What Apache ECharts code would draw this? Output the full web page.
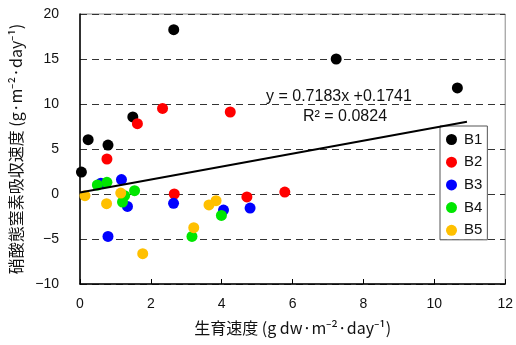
<!DOCTYPE html>
<html><head><meta charset="utf-8">
<script src="https://cdn.jsdelivr.net/npm/echarts@6/dist/echarts.min.js"></script>
<style>html,body{margin:0;padding:0;background:#fff}#c{width:516px;height:345px}</style>
</head><body><div id="c"></div>
<script>
var seriesNames = ['B1','B2','B3','B4','B5'];
var B1 = [[0.04,2.44],[0.23,6.03],[0.79,5.44],[1.49,8.56],[2.645,18.26],[7.23,15.0],[10.65,11.78]];
var B2 = [[0.76,3.89],[1.62,7.81],[2.33,9.51],[4.24,9.11],[2.66,0.0],[4.71,-0.33],[5.78,0.22]];
var B3 = [[0.59,1.2],[1.17,1.6],[1.34,-1.38],[2.64,-1.04],[0.79,-4.71],[4.05,-1.78],[4.80,-1.56]];
var B4 = [[0.49,1.0],[0.76,1.3],[1.54,0.37],[1.26,-0.19],[1.20,-0.89],[3.16,-4.71],[3.99,-2.38]];
var B5 = [[0.14,-0.19],[0.75,-1.08],[1.15,0.1],[1.77,-6.63],[3.21,-3.74],[3.64,-1.22],[3.84,-0.74]];
var slope = 0.7183, intercept = 0.1741;
var trendX = [0, 10.92];
var xTicks = [0,2,4,6,8,10,12];
var yTicks = [-10,-5,0,5,10,15,20];

var colors = ['#000000','#ff0000','#0000ff','#00e600','#ffc000'];
var allData = [B1,B2,B3,B4,B5];
var trendData = trendX.map(function(x){ return [x, slope*x + intercept]; });
var numFont = 'Liberation Sans, Arial, sans-serif';
var cjkFont = '"Noto Sans CJK JP", sans-serif';
function fmt(v){ return String(v).replace('-', '\u2212'); }

var series = allData.map(function(d,i){
  return { name: seriesNames[i], type:'scatter', data:d, symbol:'circle', symbolSize:11,
    itemStyle:{color:colors[i], opacity:1}, z:2 };
});
series.push({ name:'trend', type:'line', data:trendData, showSymbol:false, symbol:'none',
  lineStyle:{color:'#000', width:2}, z:5, silent:true });

var chart = echarts.init(document.getElementById('c'), null, {renderer:'canvas'});
chart.setOption({
  animation:false,
  backgroundColor:'#fff',
  grid:{left:80, top:14, right:8, bottom:61, show:true, borderColor:'#8a8a8a', borderWidth:1, backgroundColor:'transparent'},
  legend:{ data:seriesNames, orient:'vertical', left:440, top:126, icon:'circle',
    itemWidth:11, itemHeight:11, itemGap:7.7, padding:[6,5,2,6],
    borderColor:'#555', borderWidth:1, backgroundColor:'#fff',
    textStyle:{fontFamily:numFont, fontSize:15, color:'#111', padding:[0,0,0,2]} },
  xAxis:{ type:'value', min:0, max:12, interval:2,
    name:'生育速度 (g dw·m\u207B\u00B2·day\u207B\u00B9)', nameLocation:'middle', nameGap:36,
    nameTextStyle:{fontFamily:cjkFont, fontSize:16, color:'#111', verticalAlign:'top'},
    axisLine:{show:true, onZero:false, lineStyle:{color:'#000', width:1.5}},
    axisTick:{show:true, inside:true, length:5, lineStyle:{color:'#000'}},
    axisLabel:{margin:13, fontFamily:numFont, fontSize:14, color:'#111', formatter:fmt},
    splitLine:{show:false} },
  yAxis:{ type:'value', min:-10, max:20, interval:5,
    name:'硝酸態窒素吸収速度 (g·m\u207B\u00B2·day\u207B\u00B9)', nameLocation:'middle', nameGap:52, nameRotate:90,
    nameTextStyle:{fontFamily:cjkFont, fontSize:16, color:'#111'},
    axisLine:{show:true, onZero:false, lineStyle:{color:'#000', width:1.5}},
    axisTick:{show:false},
    axisLabel:{margin:21, fontFamily:numFont, fontSize:14, color:'#111', formatter:fmt},
    splitLine:{show:true, lineStyle:{color:'#333', type:[7,5], width:1}} },
  graphic:[
    {type:'text', left:266, top:89, z:10, style:{text:'y = 0.7183x +0.1741', font:'16px Liberation Sans, Arial, sans-serif', fill:'#111'}},
    {type:'text', left:303, top:109, z:10, style:{text:'R\u00B2 = 0.0824', font:'16px Liberation Sans, Arial, sans-serif', fill:'#111'}}
  ],
  series:series
});
</script></body></html>
